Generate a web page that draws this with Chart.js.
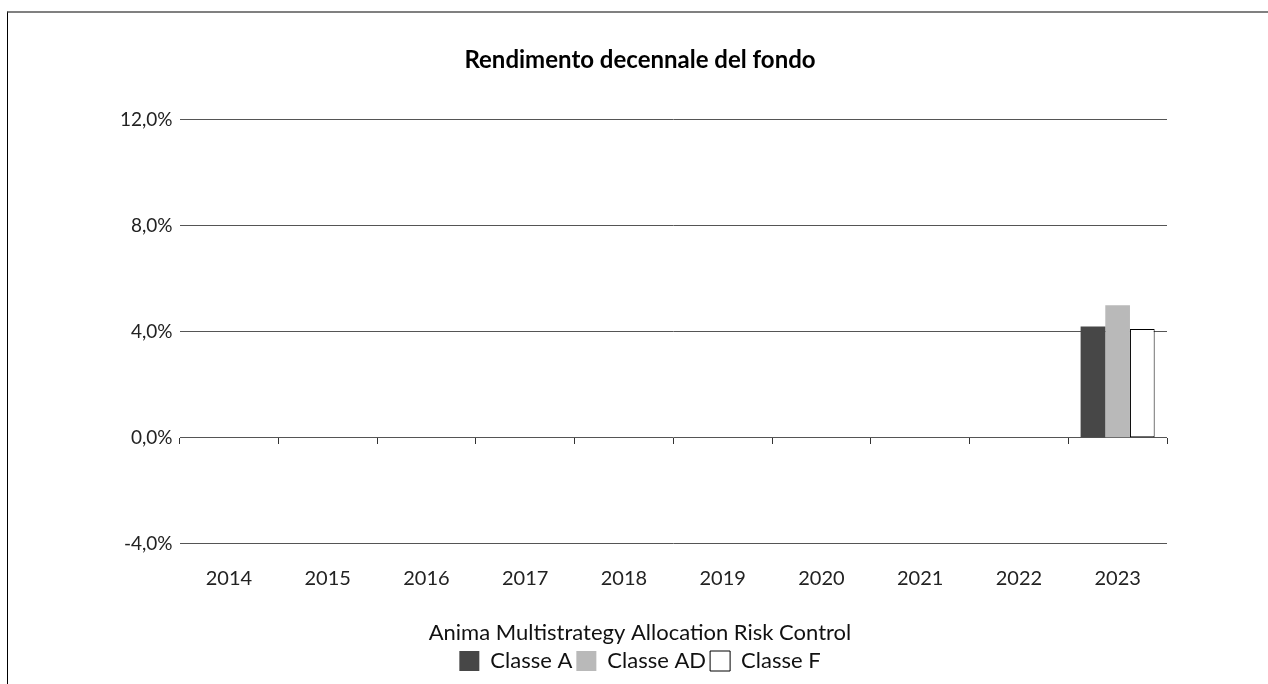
<!DOCTYPE html>
<html>
<head>
<meta charset="utf-8">
<title>Rendimento decennale del fondo</title>
<script src="https://cdn.jsdelivr.net/npm/chart.js@4.4.1/dist/chart.umd.min.js"></script>
<style>
    html, body { margin: 0; padding: 0; background: #fff; overflow: hidden; }
    .frame {
        position: absolute; left: 7px; top: 11px; right: 0; bottom: 0;
        border-top: 2px solid #808080; border-left: 1px solid #000;
    }
    .chart-box { position: absolute; left: 8px; top: 13px; width: 1260px; height: 671px; }
</style>
</head>
<body>
<div class="frame"></div>
<div class="chart-box"><canvas id="rendChart"></canvas></div>
<script>
// Anni e rendimenti per classe (solo 2023 disponibile)
const years = ['2014', '2015', '2016', '2017', '2018', '2019', '2020', '2021', '2022', '2023'];
const classeA  = [null, null, null, null, null, null, null, null, null, 4.2];
const classeAD = [null, null, null, null, null, null, null, null, null, 5.0];
const classeF  = [null, null, null, null, null, null, null, null, null, 4.1];

const fundName = 'Anima Multistrategy Allocation Risk Control';

Chart.defaults.font.family = 'Lato, "Noto Sans", sans-serif';
Chart.defaults.color = '#222';

function pct(v) {
    return v.toFixed(1).replace('.', ',') + '%';
}

new Chart(document.getElementById('rendChart'), {
    type: 'bar',
    data: {
        labels: years,
        datasets: [
            { label: 'Classe A', data: classeA, backgroundColor: '#474747', borderWidth: 0 },
            { label: 'Classe AD', data: classeAD, backgroundColor: '#b9b9b9', borderWidth: 0 },
            { label: 'Classe F', data: classeF, backgroundColor: '#ffffff', borderColor: '#000', borderWidth: 1, borderSkipped: false }
        ]
    },
    options: {
        responsive: true,
        maintainAspectRatio: false,
        animation: false,
        categoryPercentage: 0.75,
        barPercentage: 1.0,
        layout: { padding: { left: 105, right: 101, top: 18, bottom: 2 } },
        plugins: {
            tooltip: { enabled: false },
            title: {
                display: true,
                text: 'Rendimento decennale del fondo',
                color: '#000',
                font: { size: 24, weight: 'bold' },
                padding: { top: 15, bottom: 45 }
            },
            legend: {
                position: 'bottom',
                title: {
                    display: true,
                    text: fundName,
                    color: '#111',
                    font: { size: 22 },
                    padding: { top: 8, bottom: -2 }
                },
                labels: {
                    boxWidth: 20,
                    boxHeight: 20,
                    padding: 4,
                    color: '#111',
                    font: { size: 22 }
                }
            }
        },
        scales: {
            x: {
                offset: true,
                grid: { display: false, drawTicks: false },
                border: { display: false },
                ticks: { padding: 23, font: { size: 20 } }
            },
            // second axis only for the small tick marks on the zero line
            x2: {
                type: 'category',
                labels: years,
                position: { y: 0 },
                offset: true,
                grid: { offset: true, drawOnChartArea: false, drawTicks: true, tickLength: 6, color: '#333' },
                border: { display: false },
                ticks: { display: false }
            },
            y: {
                min: -4,
                max: 12,
                grid: { color: '#555', drawTicks: false },
                border: { display: false },
                ticks: {
                    stepSize: 4,
                    padding: 7,
                    font: { size: 19 },
                    callback: (v) => pct(v)
                }
            }
        }
    }
});
</script>
</body>
</html>
